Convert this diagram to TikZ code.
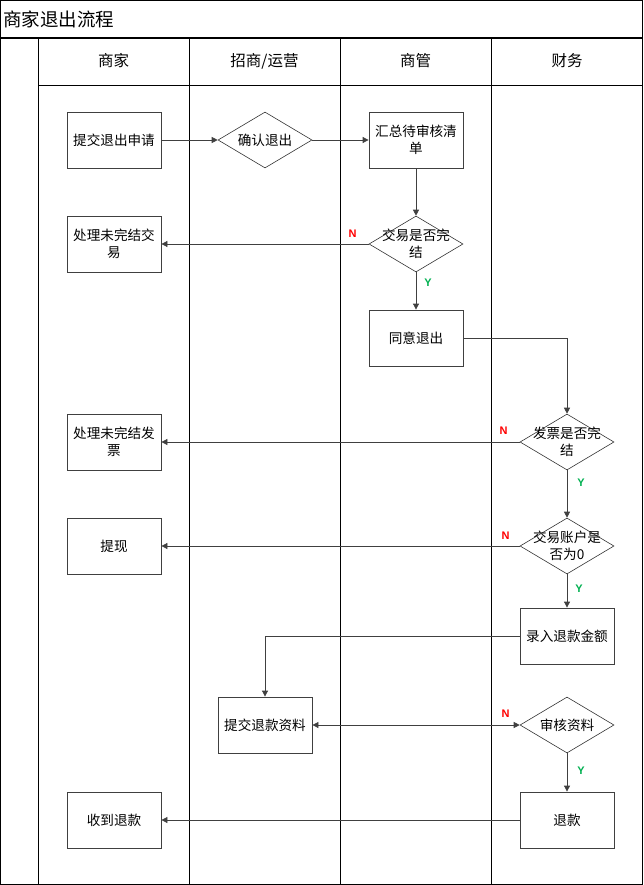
\documentclass[tikz,border=0pt]{standalone}
\usepackage{fontspec}
\setmainfont{Liberation Sans}
\newfontfamily\cjk{Noto Sans CJK SC}
\usetikzlibrary{arrows.meta,shapes.geometric}
\definecolor{okgreen}{RGB}{0,176,80}

\begin{document}
\begin{tikzpicture}[x=1pt, y=-1pt,
  lane/.style={draw=black, line width=0.9pt},
  hdr/.style={font=\cjk\fontsize{15.5}{17}\selectfont, inner sep=1pt},
  box/.style={draw=black!75, line width=0.8pt, align=center,
              font=\cjk\fontsize{13.6}{17}\selectfont,
              minimum width=94pt, minimum height=56pt, inner sep=2pt},
  dec/.style={diamond, draw=black!80, line width=0.6pt,
              minimum width=94pt, minimum height=56pt, inner sep=0pt},
  dtxt/.style={font=\cjk\fontsize{13.6}{17}\selectfont, align=center},
  ar/.style={draw=black!75, line width=0.8pt, -{Triangle[length=6pt,width=6pt]}},
  no/.style={font=\bfseries\fontsize{11}{12}\selectfont, text=red, inner sep=0pt},
  yes/.style={font=\bfseries\fontsize{11}{12}\selectfont, text=okgreen, inner sep=0pt}]
\useasboundingbox (0,0) rectangle (643,885);
% frame and swimlanes
\draw[lane] (0.5,0.5) rectangle (642.5,884.5);
\draw[draw=black, line width=1.8pt] (0,38) -- (643,38);
\draw[lane] (38,38) -- (38,885);
\draw[lane] (189,38) -- (189,885);
\draw[lane] (340,38) -- (340,885);
\draw[lane] (491,38) -- (491,885);
\draw[lane] (38,85) -- (643,85);
\node[anchor=west, font=\cjk\fontsize{18.5}{20}\selectfont, inner sep=0pt] (title) at (3,19) {商家退出流程};
\node[hdr] (h1) at (113.5,61) {商家};
\node[hdr] (h2) at (264.5,61) {招商/运营};
\node[hdr] (h3) at (415.5,61) {商管};
\node[hdr] (h4) at (567,61) {财务};

% steps
\node[box] (apply)  at (114,140) {提交退出申请};
\node[dec, label={[dtxt]center:确认退出}] (conf) at (265,140) {};
\node[box] (list)   at (416,140) {汇总待审核清\\单};
\node[dec, label={[dtxt]center:{交易是否完\\结}}] (trade) at (416,244) {};
\node[box] (fixtr)  at (114,244) {处理未完结交\\易};
\node[box] (agree)  at (416,338) {同意退出};
\node[dec, label={[dtxt]center:{发票是否完\\结}}] (inv) at (567,442) {};
\node[box] (fixinv) at (114,442) {处理未完结发\\票};
\node[dec, label={[dtxt]center:{交易账户是\\否为0}}] (acct) at (567,546) {};
\node[box] (wdraw)  at (114,546) {提现};
\node[box] (amount) at (567,636) {录入退款金额};
\node[box] (docs)   at (265,725) {提交退款资料};
\node[dec, label={[dtxt]center:审核资料}] (check) at (567,725) {};
\node[box] (refund) at (567,820) {退款};
\node[box] (recv)   at (114,820) {收到退款};

% flow
\draw[ar] (apply) -- (conf);
\draw[ar] (conf) -- (list);
\draw[ar] (list) -- (trade);
\draw[ar] (trade) -- node[no, pos=0, xshift=-16pt, yshift=10pt]{N} (fixtr);
\draw[ar] (trade) -- node[yes, pos=0, xshift=12pt, yshift=-10pt]{Y} (agree);
\draw[ar] (agree.east) -| (inv.north);
\draw[ar] (inv) -- node[no, pos=0, xshift=-16pt, yshift=11pt]{N} (fixinv);
\draw[ar] (inv) -- node[yes, pos=0, xshift=14pt, yshift=-12pt]{Y} (acct);
\draw[ar] (acct) -- node[no, pos=0, xshift=-14pt, yshift=10pt]{N} (wdraw);
\draw[ar] (acct) -- node[yes, pos=0, xshift=12pt, yshift=-14pt]{Y} (amount);
\draw[ar] (amount.west) -| (docs.north);
\draw[ar, {Triangle[length=6pt,width=6pt]}-{Triangle[length=6pt,width=6pt]}] (docs) -- node[no, pos=1, xshift=-14pt, yshift=11pt]{N} (check);
\draw[ar] (check) -- node[yes, pos=0, xshift=14pt, yshift=-17pt]{Y} (refund);
\draw[ar] (refund) -- (recv);
\end{tikzpicture}
\end{document}
